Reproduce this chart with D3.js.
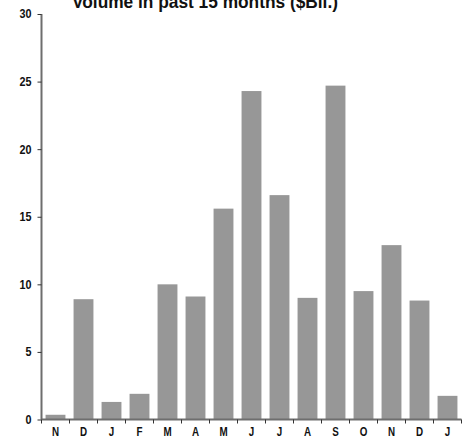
<!DOCTYPE html>
<html><head><meta charset="utf-8">
<script src="https://cdn.jsdelivr.net/npm/d3@7"></script>
<style>
html,body{margin:0;padding:0;background:#fff;}
text{font-family:"Liberation Sans Narrow","Arial Narrow","Liberation Sans",sans-serif;font-weight:bold;}
</style></head>
<body>
<svg id="chart" width="468" height="448"></svg>
<script>
const categories = ["N","D","J","F","M","A","M","J","J","A","S","O","N","D","J"];
const values = [0.35, 8.9, 1.3, 1.9, 10.0, 9.1, 15.6, 24.3, 16.6, 9.0, 24.7, 9.5, 12.9, 8.8, 1.75];
const yTicks = [0, 5, 10, 15, 20, 25, 30];
const title = "Volume in past 15 months ($Bil.)";

const svg = d3.select("#chart");
const m = {left: 41.5, right: 6.5, top: 14, bottom: 28.5};
const W = 468, H = 448;
const x = d3.scaleBand().domain(d3.range(categories.length)).range([m.left, W - m.right]).paddingInner(0.29).paddingOuter(0.145);
const y = d3.scaleLinear().domain([0, 30]).range([H - m.bottom, m.top]);

svg.append("g").selectAll("rect").data(values).join("rect")
  .attr("x", (d, i) => x(i)).attr("width", x.bandwidth())
  .attr("y", d => y(d)).attr("height", d => y(0) - y(d))
  .attr("fill", "#979797");

// y axis
const ya = svg.append("g").attr("transform", `translate(${m.left},0)`)
  .call(d3.axisLeft(y).tickValues(yTicks).tickSize(4).tickPadding(6));
ya.select(".domain").attr("stroke", "#6e6e6e").attr("stroke-width", 2).attr("d", `M0,${y(0)}V${y(30)}`);
ya.selectAll(".tick line").attr("stroke", "#333");
ya.selectAll(".tick text").attr("font-size", 12).attr("fill", "#111")
  .style("font-family", '"Liberation Sans Narrow","Arial Narrow","Liberation Sans",sans-serif').style("font-weight", "bold")
  .attr("textLength", d => String(d).length * 6).attr("lengthAdjust", "spacingAndGlyphs");

// x axis
const xb = d3.scaleLinear().domain([0, categories.length]).range([m.left, W - m.right]);
const xa = svg.append("g").attr("transform", `translate(0,${y(0)})`);
xa.append("line").attr("x1", m.left).attr("x2", W - m.right).attr("stroke", "#6e6e6e").attr("stroke-width", 2);
xa.selectAll("line.t").data(d3.range(categories.length + 1)).join("line").attr("class", "t")
  .attr("x1", d => xb(d)).attr("x2", d => xb(d)).attr("y1", 0).attr("y2", 4).attr("stroke", "#333");
xa.selectAll("text").data(categories).join("text")
  .attr("x", (d, i) => x(i) + x.bandwidth() / 2).attr("y", 17)
  .attr("text-anchor", "middle").attr("font-size", 12).attr("fill", "#111")
  .attr("transform", (d, i) => { const cx = x(i) + x.bandwidth() / 2; return `translate(${cx},0) scale(0.82,1) translate(${-cx},0)`; })
  .text(d => d);

svg.append("text").attr("x", 72).attr("y", 8)
  .attr("font-size", 19).attr("fill", "#111")
  .attr("textLength", 266).attr("lengthAdjust", "spacingAndGlyphs").text(title);
</script>
</body></html>
